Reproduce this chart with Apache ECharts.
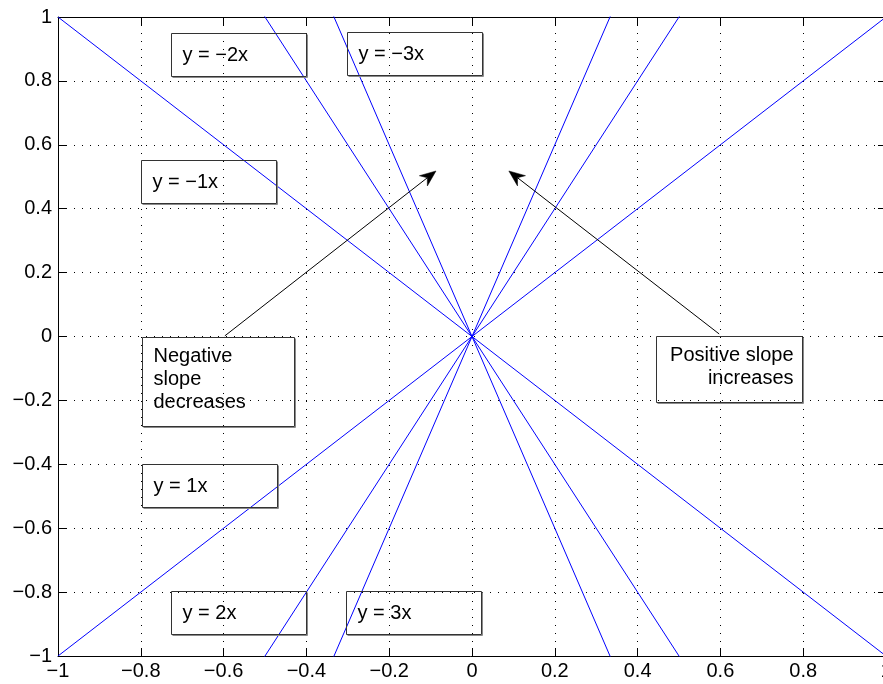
<!DOCTYPE html>
<html>
<head>
<meta charset="utf-8">
<title>Slopes of y = kx</title>
<script src="https://cdn.jsdelivr.net/npm/echarts@6/dist/echarts.min.js"></script>
<style>
  html, body { margin: 0; padding: 0; background: #fff; }
  #chart { width: 883px; height: 684px; }
</style>
</head>
<body>
<div id="chart"></div>
<script>
// Tick labels for both axes (MATLAB-style minus sign)
const xTickLabels = ['\u22121', '\u22120.8', '\u22120.6', '\u22120.4', '\u22120.2', '0', '0.2', '0.4', '0.6', '0.8', '1'];
const yTickLabels = ['\u22121', '\u22120.8', '\u22120.6', '\u22120.4', '\u22120.2', '0', '0.2', '0.4', '0.6', '0.8', '1'];

// Each line runs from x = -1 to x = 1
const lineX = [-1, 1];
const lineNames = ['y = \u22123x', 'y = \u22122x', 'y = \u22121x', 'y = 1x', 'y = 2x', 'y = 3x'];
const lineYAtLeft = [3, 2, 1, -1, -2, -3];
const lineYAtRight = [-3, -2, -1, 1, 2, 3];

// Text box contents
const boxTexts = ['y = \u22122x', 'y = \u22123x', 'y = \u22121x', 'y = 1x', 'y = 2x', 'y = 3x',
                  'Negative\nslope\ndecreases', 'Positive slope\nincreases'];

// Arrow annotations: [start, tip] in data units
const arrowNegative = [[-0.597, 0.002], [-0.087, 0.518]];
const arrowPositive = [[0.597, 0.008], [0.089, 0.518]];

const FONT = '"Liberation Sans", Arial, Helvetica, sans-serif';
const FONT_SIZE = 20;
const chart = echarts.init(document.getElementById('chart'), null, { renderer: 'canvas' });

function tickIndex(v) { return Math.round((v + 1) / 0.2); }

const dotted = { color: '#000', width: 1, type: [1, 7] };
const axisLine = { show: true, onZero: false, lineStyle: { color: '#000', width: 1 } };
const tick = { show: true, inside: true, length: 8, lineStyle: { color: '#000', width: 1 } };

const series = lineNames.map((name, i) => ({
  name: name,
  type: 'line',
  data: [[lineX[0], lineYAtLeft[i]], [lineX[1], lineYAtRight[i]]],
  symbol: 'none',
  clip: true,
  lineStyle: { color: '#0000ff', width: 1 },
  silent: true
}));

chart.setOption({
  animation: false,
  backgroundColor: '#fff',
  // the plot box runs a few pixels past the right edge of the canvas
  grid: { left: 58, width: 828, top: 17, bottom: 28, containLabel: false, outerBoundsMode: 'none' },
  xAxis: [
    {
      type: 'value', min: -1, max: 1, interval: 0.2, position: 'bottom',
      axisLine: axisLine, axisTick: tick,
      axisLabel: {
        show: true, margin: 5, color: '#000', fontSize: FONT_SIZE, fontFamily: FONT,
        formatter: v => xTickLabels[tickIndex(v)]
      },
      splitLine: { show: true, lineStyle: dotted }
    },
    {
      type: 'value', min: -1, max: 1, interval: 0.2, position: 'top',
      axisLine: axisLine, axisTick: tick,
      axisLabel: { show: false }, splitLine: { show: false }
    }
  ],
  yAxis: [
    {
      type: 'value', min: -1, max: 1, interval: 0.2, position: 'left',
      axisLine: axisLine, axisTick: tick,
      axisLabel: {
        show: true, margin: 6, color: '#000', fontSize: FONT_SIZE, fontFamily: FONT,
        formatter: v => yTickLabels[tickIndex(v)]
      },
      splitLine: { show: true, lineStyle: dotted }
    },
    {
      type: 'value', min: -1, max: 1, interval: 0.2, position: 'right',
      axisLine: axisLine, axisTick: tick,
      axisLabel: { show: false }, splitLine: { show: false }
    }
  ],
  series: series
});

// Text boxes: top-left anchor in data units, size in pixels
const boxLayout = [
  { at: [-0.727, 0.950], w: 135, h: 43, align: 'left' },
  { at: [-0.302, 0.953], w: 135, h: 43, align: 'left' },
  { at: [-0.800, 0.552], w: 135, h: 43, align: 'left' },
  { at: [-0.797, -0.399], w: 135, h: 43, align: 'left' },
  { at: [-0.727, -0.797], w: 135, h: 43, align: 'left' },
  { at: [-0.304, -0.797], w: 135, h: 43, align: 'left' },
  { at: [-0.797, -0.002], w: 152, h: 89, align: 'left' },
  { at: [0.444, 0.002], w: 146, h: 66, align: 'right' }
];

const toPx = p => chart.convertToPixel({ xAxisIndex: 0, yAxisIndex: 0 }, p);

const graphics = [];
boxTexts.forEach((txt, i) => {
  const b = boxLayout[i];
  const p = toPx(b.at);
  const x = Math.round(p[0]) + 0.5, y = Math.round(p[1]) + 0.5;
  const lines = txt.split('\n').length;
  const lh = 23;
  const textTop = y + b.h / 2 - (lines * lh) / 2 - (lines > 1 ? 3 : 0);
  graphics.push({
    type: 'rect', silent: true, z: 10,
    shape: { x: x, y: y, width: b.w, height: b.h },
    style: { fill: 'none', stroke: '#333', lineWidth: 1 }
  });
  graphics.push({
    type: 'polyline', silent: true, z: 10,
    shape: { points: [[x + 1, y + b.h + 1], [x + b.w + 1, y + b.h + 1], [x + b.w + 1, y + 1]] },
    style: { fill: 'none', stroke: '#8a8a8a', lineWidth: 1 }
  });
  graphics.push({
    type: 'text', silent: true, z: 11,
    style: {
      text: txt,
      x: b.align === 'left' ? x + 11 : x + b.w - 9,
      y: textTop,
      align: b.align,
      verticalAlign: 'top',
      lineHeight: lh,
      font: FONT_SIZE + 'px ' + FONT,
      fill: '#000'
    }
  });
});

[arrowNegative, arrowPositive].forEach(a => {
  const s = toPx(a[0]), t = toPx(a[1]);
  const dx = t[0] - s[0], dy = t[1] - s[1];
  const len = Math.hypot(dx, dy);
  const ux = dx / len, uy = dy / len;
  const nx = -uy, ny = ux;
  const L = 16, W = 6.5, N = 11;
  graphics.push({
    type: 'line', silent: true, z: 12,
    shape: { x1: s[0], y1: s[1], x2: t[0] - ux * N, y2: t[1] - uy * N },
    style: { stroke: '#000', lineWidth: 1 }
  });
  graphics.push({
    type: 'polygon', silent: true, z: 12,
    shape: {
      points: [
        [t[0], t[1]],
        [t[0] - ux * L + nx * W, t[1] - uy * L + ny * W],
        [t[0] - ux * N, t[1] - uy * N],
        [t[0] - ux * L - nx * W, t[1] - uy * L - ny * W]
      ]
    },
    style: { fill: '#000', stroke: '#000', lineWidth: 0.5 }
  });
});

chart.setOption({ graphic: graphics });
</script>
</body>
</html>
